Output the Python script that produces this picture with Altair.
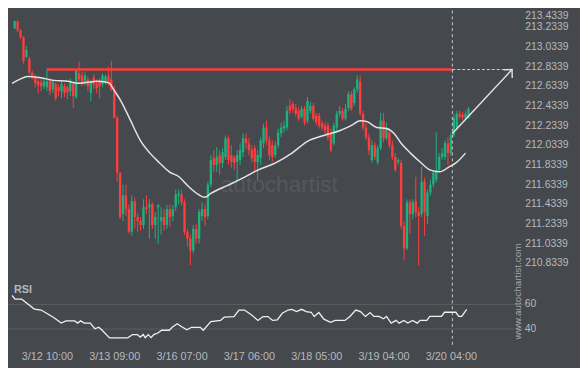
import altair as alt
import pandas as pd

# ---------------- data ----------------
opens = [213.22, 213.29, 213.20, 213.13, 212.93, 212.91, 212.77, 212.72, 212.68, 212.67,
         212.63, 212.62, 212.69, 212.60, 212.65, 212.62, 212.58, 212.63, 212.62, 212.58,
         212.65, 212.52, 212.76, 212.74, 212.68, 212.70, 212.56, 212.72, 212.66, 212.68,
         212.65, 212.68, 212.73, 212.70, 212.60, 212.31, 211.75, 211.33, 211.52, 211.38,
         211.15, 211.46, 211.30, 211.26, 211.22, 211.40, 211.40, 211.43, 211.22, 211.40,
         211.26, 211.30, 211.22, 211.38, 211.31, 211.40, 211.52, 211.53, 211.45, 211.15,
         211.08, 210.96, 211.18, 211.08, 211.31, 211.38, 211.31, 211.63, 211.90, 211.83,
         211.93, 211.85, 211.91, 212.10, 211.93, 211.91, 211.86, 211.88, 211.96, 212.10,
         212.05, 211.98, 212.00, 211.86, 211.90, 212.05, 212.21, 212.08, 212.03, 211.93,
         212.03, 212.15, 212.20, 212.21, 212.43, 212.45, 212.41, 212.38, 212.32, 212.40,
         212.28, 212.38, 212.43, 212.33, 212.33, 212.25, 212.23, 212.23, 212.16, 212.05,
         212.21, 212.35, 212.38, 212.30, 212.41, 212.55, 212.46, 212.60, 212.68, 212.35,
         212.21, 212.11, 211.88, 212.03, 211.86, 212.00, 212.28, 212.10, 212.16, 212.03,
         211.91, 211.86, 211.85, 211.21, 210.98, 211.45, 211.33, 211.46, 211.35, 211.33,
         211.66, 211.31, 211.55, 211.63, 211.68, 211.78, 211.91, 211.91, 212.05, 211.95,
         212.13, 212.21, 212.35, 212.34, 212.31, 212.31]
highs = [213.30, 213.30, 213.21, 213.14, 213.04, 212.93, 212.79, 212.75, 212.71, 212.70,
         212.71, 212.80, 212.71, 212.70, 212.67, 212.65, 212.68, 212.66, 212.64, 212.71,
         212.68, 212.80, 212.88, 212.78, 212.78, 212.73, 212.70, 212.75, 212.70, 212.71,
         212.76, 212.75, 212.83, 212.89, 212.64, 212.33, 211.76, 211.63, 211.63, 211.43,
         211.52, 211.50, 211.34, 211.30, 211.48, 211.52, 211.48, 211.45, 211.35, 211.43,
         211.40, 211.38, 211.42, 211.43, 211.42, 211.58, 211.58, 211.58, 211.48, 211.18,
         211.12, 211.22, 211.23, 211.38, 211.45, 211.43, 211.66, 211.93, 211.98, 212.01,
         211.98, 212.00, 212.13, 212.13, 212.03, 211.93, 211.98, 212.05, 212.15, 212.15,
         212.10, 212.03, 212.03, 211.98, 212.11, 212.25, 212.28, 212.12, 212.08, 212.07,
         212.20, 212.26, 212.28, 212.43, 212.50, 212.48, 212.45, 212.42, 212.43, 212.43,
         212.52, 212.47, 212.46, 212.36, 212.36, 212.28, 212.26, 212.26, 212.20, 212.26,
         212.38, 212.43, 212.41, 212.45, 212.58, 212.58, 212.62, 212.74, 212.74, 212.38,
         212.26, 212.15, 212.08, 212.06, 212.03, 212.36, 212.36, 212.26, 212.20, 212.08,
         211.95, 211.90, 211.88, 211.26, 211.48, 211.48, 211.48, 211.71, 211.40, 211.81,
         211.70, 211.58, 211.68, 211.78, 212.16, 211.95, 212.00, 212.08, 212.11, 212.16,
         212.35, 212.38, 212.38, 212.37, 212.38, 212.42]
lows = [213.21, 213.18, 213.11, 212.86, 212.92, 212.75, 212.70, 212.62, 212.56, 212.58,
        212.60, 212.58, 212.54, 212.56, 212.48, 212.53, 212.51, 212.52, 212.50, 212.53,
        212.41, 212.50, 212.66, 212.63, 212.64, 212.58, 212.48, 212.60, 212.56, 212.51,
        212.62, 212.65, 212.63, 212.58, 212.30, 211.66, 211.28, 211.26, 211.31, 211.13,
        211.11, 211.18, 211.15, 211.16, 211.18, 211.33, 211.08, 211.18, 211.08, 211.03,
        211.12, 211.16, 211.18, 211.20, 211.26, 211.36, 211.43, 211.42, 211.12, 211.00,
        210.81, 210.93, 211.03, 211.03, 211.26, 211.21, 211.28, 211.60, 211.76, 211.76,
        211.73, 211.80, 211.88, 211.83, 211.80, 211.78, 211.66, 211.83, 211.91, 212.00,
        211.93, 211.86, 211.76, 211.68, 211.83, 212.00, 212.03, 211.88, 211.86, 211.90,
        212.00, 212.11, 212.16, 212.18, 212.35, 212.36, 212.32, 212.28, 212.30, 212.23,
        212.25, 212.35, 212.28, 212.23, 212.20, 212.18, 212.15, 212.08, 211.96, 212.03,
        212.18, 212.32, 212.28, 212.28, 212.38, 212.38, 212.43, 212.56, 212.33, 212.18,
        212.08, 211.93, 211.85, 211.88, 211.83, 211.98, 212.06, 212.08, 212.00, 211.88,
        211.76, 211.83, 211.18, 210.86, 210.96, 211.13, 211.28, 211.30, 210.81, 211.30,
        211.11, 211.23, 211.52, 211.60, 211.65, 211.76, 211.88, 211.88, 211.83, 211.92,
        212.11, 212.18, 212.30, 212.29, 212.29, 212.30]
closes = [213.29, 213.20, 213.13, 212.89, 213.00, 212.77, 212.73, 212.66, 212.64, 212.63,
          212.68, 212.68, 212.58, 212.68, 212.51, 212.58, 212.65, 212.56, 212.57, 212.68,
          212.53, 212.79, 212.70, 212.66, 212.74, 212.63, 212.68, 212.65, 212.61, 212.63,
          212.74, 212.73, 212.66, 212.60, 212.31, 211.75, 211.30, 211.52, 211.38, 211.15,
          211.46, 211.30, 211.26, 211.22, 211.40, 211.38, 211.43, 211.22, 211.30, 211.42,
          211.30, 211.22, 211.38, 211.30, 211.38, 211.53, 211.54, 211.45, 211.15, 211.08,
          210.96, 211.18, 211.08, 211.35, 211.38, 211.30, 211.63, 211.88, 211.83, 211.91,
          211.85, 211.96, 212.10, 211.88, 211.86, 211.85, 211.93, 211.98, 212.10, 212.05,
          211.98, 211.90, 211.86, 211.93, 212.08, 212.21, 212.08, 211.93, 211.91, 212.03,
          212.16, 212.21, 212.23, 212.38, 212.38, 212.40, 212.35, 212.30, 212.40, 212.26,
          212.48, 212.43, 212.30, 212.26, 212.23, 212.21, 212.18, 212.11, 211.98, 212.23,
          212.35, 212.38, 212.30, 212.40, 212.55, 212.40, 212.60, 212.70, 212.35, 212.21,
          212.11, 211.98, 212.03, 211.91, 212.00, 212.28, 212.10, 212.21, 212.03, 211.91,
          211.78, 211.88, 211.21, 210.98, 211.45, 211.33, 211.45, 211.35, 211.31, 211.66,
          211.35, 211.55, 211.63, 211.75, 211.78, 211.91, 211.95, 212.05, 211.95, 212.13,
          212.31, 212.35, 212.32, 212.31, 212.35, 212.40]

ma_idx = [-0.9, 1.7, 4.4, 8.3, 13.3, 18.2, 21.5, 24.8, 28.0, 31.4,
          32.4, 33.7, 36.3, 39.6, 42.9, 46.2, 49.5, 52.8, 56.1, 59.4,
          62.7, 65.0, 67.0, 72.6, 78.2, 82.5, 89.1, 94.7, 100.0, 105.6,
          111.2, 115.5, 118.0, 120.4, 123.7, 127.0, 129.6, 132.0, 135.2, 138.5,
          141.8, 145.1, 148.4, 150.7, 154.0]
ma_val = [212.66, 212.70, 212.73, 212.72, 212.69, 212.68, 212.66, 212.67, 212.68, 212.67,
          212.66, 212.60, 212.48, 212.28, 212.08, 211.95, 211.85, 211.76, 211.71, 211.61,
          211.53, 211.50, 211.54, 211.62, 211.70, 211.77, 211.85, 211.95, 212.07, 212.13,
          212.18, 212.24, 212.28, 212.27, 212.21, 212.20, 212.15, 212.05, 211.95, 211.86,
          211.78, 211.76, 211.81, 211.85, 211.95]

rsi_idx = [-0.9, 0.1, 2.4, 3.4, 6.7, 9.0, 10.9, 13.3, 15.9, 17.5, 20.5, 21.5, 22.5, 23.8,
           25.8, 27.4, 28.7, 29.7, 32.4, 38.6, 40.3, 41.9, 42.9, 43.9, 44.6, 45.6, 46.6,
           47.5, 48.9, 50.2, 52.8, 53.8, 55.5, 56.8, 58.8, 60.4, 63.4, 64.4, 67.0, 70.3,
           71.6, 74.9, 76.6, 78.5, 80.8, 83.1, 84.8, 86.5, 88.1, 89.7, 91.4, 93.4, 94.7,
           96.3, 98.0, 99.6, 101.3, 102.3, 103.9, 105.6, 107.9, 109.5, 112.8, 114.5, 116.5,
           118.1, 119.8, 121.4, 122.7, 124.4, 126.0, 127.0, 128.6, 130.3, 131.3, 132.9,
           134.3, 135.9, 137.5, 138.5, 140.8, 141.8, 145.8, 146.8, 150.7, 151.7, 152.7, 154.4]
rsi_val = [67.2, 64.2, 64.2, 62.4, 56.2, 55.4, 52.8, 49.4, 44.8, 46.6, 46.6, 44.8, 46.6, 44.8,
           44.8, 40.2, 41.5, 39.4, 32.8, 32.8, 35.5, 35.5, 33.5, 35.5, 33.0, 35.5, 33.0,
           35.5, 36.8, 39.0, 39.0, 41.4, 44.3, 42.2, 39.4, 41.4, 41.4, 39.0, 46.1, 47.0,
           49.6, 50.1, 55.4, 55.4, 51.5, 47.0, 50.1, 50.1, 47.0, 47.5, 52.8, 55.4, 56.0,
           54.1, 56.0, 54.1, 53.6, 50.1, 53.4, 48.0, 45.4, 47.0, 47.0, 50.2, 55.4,
           54.1, 50.2, 53.4, 50.2, 50.2, 48.3, 50.2, 44.8, 47.0, 44.8, 47.0,
           44.8, 47.0, 44.8, 47.0, 47.0, 50.2, 50.2, 53.6, 53.6, 50.2, 50.2, 56.0]

x_tick_idx = [11, 34, 57, 80, 103, 126, 149]
x_tick_labels = ["3/12 10:00", "3/13 09:00", "3/16 07:00", "3/17 06:00",
                 "3/18 05:00", "3/19 04:00", "3/20 04:00"]
price_ticks = [210.8339, 211.0339, 211.2339, 211.4339, 211.6339, 211.8339, 212.0339,
               212.2339, 212.4339, 212.6339, 212.8339, 213.0339, 213.2339, 213.4339]
rsi_ticks = [60, 40]
rsi_tick_labels = ["60", "40"]

level_price = 212.80
level_start = 11
signal_idx = 149.5
arrow_idx = [149.5, 169.9]
arrow_price = [212.15, 212.80]

# ---------------- style ----------------
BG = "#45484d"
RED = "#ff3d3d"
GREEN = "#1fb07d"
TXT = "#b6b9bd"
FONT = "Liberation Sans"
W, H = 512, 342

xs = alt.Scale(domain=[0, 155], range=[1.8, 471.9], nice=False, zero=False)
ps = alt.Scale(domain=[210.8339, 213.4339], range=[255.9, -3.3], nice=False, zero=False)
rs = alt.Scale(domain=[0, 100], range=[373.0, 248.0], nice=False, zero=False)

label_arr = "[" + ",".join("'%s'" % s for s in x_tick_labels) + "]"
idx_arr = "[" + ",".join(str(v) for v in x_tick_idx) + "]"
xaxis = alt.Axis(values=x_tick_idx, labelExpr=f"{label_arr}[indexof({idx_arr}, datum.value)]",
                 title=None, ticks=False, domain=False, grid=False, labelFont=FONT,
                 labelFontSize=11, labelColor=TXT, labelPadding=9, labelBaseline="middle",
                 labelFlush=False, labelOverlap=False)
yaxis = alt.Axis(values=price_ticks, format=".4f", orient="right", title=None, ticks=False,
                 domain=False, grid=False, labelFont=FONT, labelFontSize=10.5, labelColor=TXT,
                 labelPadding=12, labelFlush=False, labelOverlap=False,
                 labelOffset={"expr": "datum.value > 213.4 ? 8 : 0"})


def X(field):
    return alt.X(field, scale=xs, axis=xaxis)


candles = pd.DataFrame({"i": list(range(len(opens))), "open": opens, "high": highs,
                        "low": lows, "close": closes})
candles["dir"] = ["up" if c >= o else "down" for o, c in zip(opens, closes)]
ccolor = alt.Color("dir:N", scale=alt.Scale(domain=["up", "down"], range=[GREEN, RED]), legend=None)

rsi_grid = alt.Chart(pd.DataFrame({"v": rsi_ticks})).mark_rule(color="#5c615e", strokeWidth=1).encode(
    y=alt.Y("v:Q", scale=rs, axis=None), x=alt.value(0), x2=alt.value(523))

watermark = alt.Chart(pd.DataFrame({"t": ["autochartist"]})).mark_text(
    font=FONT, fontSize=23, color="#55585d", align="center", baseline="middle").encode(
    text="t:N", x=alt.value(275), y=alt.value(177))

level = alt.Chart(pd.DataFrame({"a": [level_start], "b": [signal_idx], "p": [level_price]})).mark_rule(
    color=RED, strokeWidth=2.5).encode(x=X("a:Q"), x2="b:Q", y=alt.Y("p:Q", scale=ps, axis=None))

vline = alt.Chart(pd.DataFrame({"a": [signal_idx]})).mark_rule(
    color="#c9cbcd", strokeWidth=1, strokeDash=[3, 3]).encode(
    x=X("a:Q"), y=alt.value(0), y2=alt.value(H))

wicks = alt.Chart(candles).mark_rule(strokeWidth=1).encode(
    x=X("i:Q"), y=alt.Y("low:Q", scale=ps, axis=yaxis), y2="high:Q", color=ccolor)

bodies = alt.Chart(candles).mark_bar(size=2.4).encode(
    x=X("i:Q"), y=alt.Y("open:Q", scale=ps, axis=None), y2="close:Q", color=ccolor)

ma = alt.Chart(pd.DataFrame({"i": ma_idx, "v": ma_val})).mark_line(
    color="#e4e4e4", strokeWidth=1.5, interpolate="monotone").encode(
    x=X("i:Q"), y=alt.Y("v:Q", scale=ps, axis=None))

hdash = alt.Chart(pd.DataFrame({"a": [arrow_idx[0]], "b": [arrow_idx[1]], "p": [level_price]})).mark_rule(
    color="#d0d2d4", strokeWidth=1, strokeDash=[3, 2]).encode(
    x=X("a:Q"), x2="b:Q", y=alt.Y("p:Q", scale=ps, axis=None))

arrow_df = pd.DataFrame({"i": arrow_idx, "p": arrow_price})
arrow = alt.Chart(arrow_df).mark_line(color="#e4e4e4", strokeWidth=1.5).encode(
    x=X("i:Q"), y=alt.Y("p:Q", scale=ps, axis=None))
arrow_head = alt.Chart(arrow_df.tail(1)).mark_point(
    shape="M -1 1 L 0 0 L 1 1", filled=False, size=144, angle=44, strokeWidth=1.4,
    color="#e4e4e4", opacity=1).encode(x=X("i:Q"), y=alt.Y("p:Q", scale=ps, axis=None))

rsi_line = alt.Chart(pd.DataFrame({"i": rsi_idx, "r": rsi_val})).mark_line(
    color="#f0f0f0", strokeWidth=1.3).encode(x=X("i:Q"), y=alt.Y("r:Q", scale=rs, axis=None))

rsi_labels = alt.Chart(pd.DataFrame({"v": rsi_ticks, "t": rsi_tick_labels})).mark_text(
    font=FONT, fontSize=10.5, color=TXT, align="left", baseline="middle").encode(
    x=alt.value(524), y=alt.Y("v:Q", scale=rs, axis=None), text="t:N")

rsi_title = alt.Chart(pd.DataFrame({"t": ["RSI"]})).mark_text(
    font=FONT, fontSize=11, fontWeight="bold", color=TXT, align="left", baseline="middle").encode(
    x=alt.value(6), y=alt.value(283), text="t:N")

www = alt.Chart(pd.DataFrame({"t": ["www.autochartist.com"]})).mark_text(
    font=FONT, fontSize=10, color="#a2a5a9", align="center", baseline="middle", angle=270).encode(
    x=alt.value(517), y=alt.value(285), text="t:N")

chart = alt.layer(
    rsi_grid, watermark, wicks, bodies, level, vline, ma, hdash, arrow, arrow_head,
    rsi_line, rsi_labels, rsi_title, www
).resolve_scale(y="independent").properties(
    width=W, height=H,
    autosize=alt.AutoSizeParams(type="none"),
    padding={"left": 0, "top": 0, "right": 68, "bottom": 18},
    background=BG,
).configure_view(strokeWidth=0)

chart.save("out.html", embed_options={"renderer": "svg", "actions": False})
